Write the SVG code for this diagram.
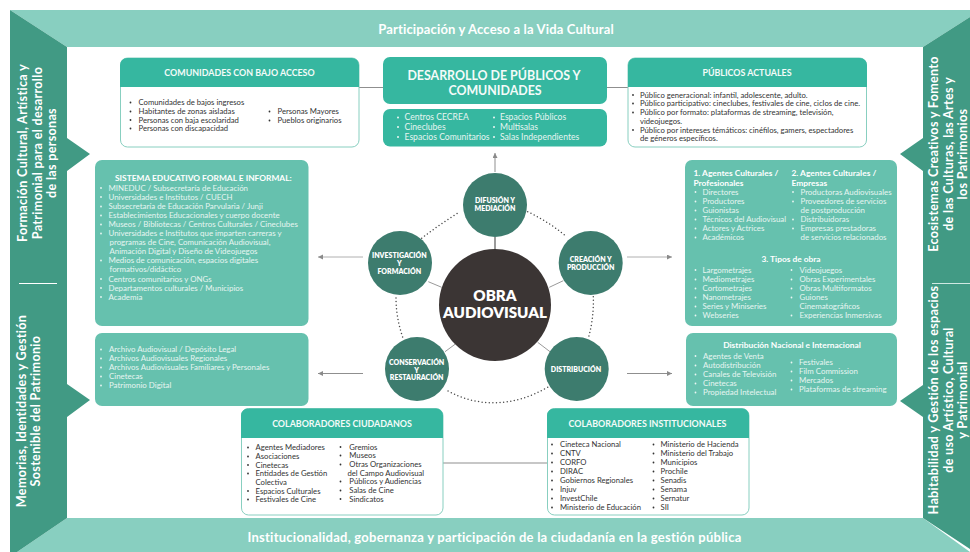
<svg xmlns="http://www.w3.org/2000/svg" width="970" height="552" viewBox="0 0 970 552">
<defs>
<marker id="arr" markerWidth="6" markerHeight="6" refX="5" refY="2.5" orient="auto" markerUnits="userSpaceOnUse"><path d="M0,0 L5,2.5 L0,5 Z" fill="#8a8a8a"/></marker>
</defs>
<style>
text{font-family:Lato,"Open Sans","Liberation Sans",sans-serif}
.b{font-size:7.7px;fill:#333}
.w{font-size:7.9px;fill:#e6f5f1}
.h{font-size:8.9px;font-weight:700;fill:#f4fbf9;text-anchor:middle}
.t{font-size:8.4px;font-weight:700;fill:#fff}
.m{text-anchor:middle}
.c{font-size:7px;font-weight:800;fill:#fff;text-anchor:middle}
.band{font-size:13px;font-weight:700;fill:#fff;text-anchor:middle;letter-spacing:.15px}
.wide{letter-spacing:.25px}
.col{font-size:12.6px;font-weight:700;fill:#fff;text-anchor:middle;letter-spacing:.3px}
.teal{fill:#36b7a0}.light{fill:#66c1ae}.node{fill:#3d7c6e}
.card{fill:#fff;stroke:#88cfc0;stroke-width:1}
.dk circle{fill:#333}.lt circle{fill:#eaf6f3}
.ln{stroke:#8f8f8f;fill:none;stroke-width:1}
.dot{stroke:#4a4a4a;fill:none;stroke-width:1.5;stroke-linecap:round;stroke-dasharray:0 3.6}
.sp{stroke:#9a9a9a;fill:none}
.s{font-size:8.6px}
</style>
<rect width="970" height="552" fill="#fff"/>
<g id="frame">
<polygon points="10,10 970,10 970,17 923,47 67,47" fill="#88cfc0"/>
<polygon points="67,518 923,518 970,552 17,552" fill="#88cfc0"/>
<polygon points="10,10 67,47 67,138 90,154 67,171 67,384 90,400 67,417 67,518 17,552 10,552" fill="#419a84"/>
<polygon points="970,17 923,47 923,138 900,154 923,171 923,385 900,401 923,417 923,518 970,549" fill="#419a84"/>
<line x1="19" y1="283.5" x2="57" y2="283.5" stroke="#fff"/>
<line x1="932" y1="283.5" x2="970" y2="283.5" stroke="#cfe8e2"/>
<text class="band" x="496" y="33.5">Participación y Acceso a la Vida Cultural</text>
<text class="band wide" x="494.500" y="542">Institucionalidad, gobernanza y participación de la ciudadanía en la gestión pública</text>
<text class="col" transform="translate(27,153) rotate(-90)">Formación Cultural, Artística y</text>
<text class="col" transform="translate(41.5,153) rotate(-90)">Patrimonial para el desarrollo</text>
<text class="col" transform="translate(56,153) rotate(-90)">de las personas</text>
<text class="col" transform="translate(26,411) rotate(-90)">Memorias, Identidades y Gestión</text>
<text class="col" transform="translate(40,411) rotate(-90)">Sostenible del Patrimonio</text>
<text class="col" transform="translate(938,154) rotate(-90)">Ecosistemas Creativos y Fomento</text>
<text class="col" transform="translate(952.5,154) rotate(-90)">de las Culturas, las Artes y</text>
<text class="col" transform="translate(966.5,154) rotate(-90)">los Patrimonios</text>
<text class="col" transform="translate(938,400) rotate(-90)">Habitabilidad y Gestión de los espacios</text>
<text class="col" transform="translate(952.5,400) rotate(-90)">de uso Artístico, Cultural</text>
<text class="col" transform="translate(966.5,400) rotate(-90)">y Patrimonial</text>
</g>
<g id="connectors">
<line class="ln" x1="359" y1="87.5" x2="383" y2="87.5"/>
<line class="ln" x1="607" y1="87.5" x2="628" y2="87.5"/>
<line class="ln" x1="443" y1="463" x2="547" y2="463"/>
<line class="ln" x1="495" y1="172" x2="495" y2="153" marker-end="url(#arr)"/>
<line class="ln" x1="363" y1="257" x2="318" y2="257" marker-end="url(#arr)" stroke-opacity=".7"/>
<line class="ln" x1="363" y1="373.5" x2="318" y2="373.5" marker-end="url(#arr)"/>
<line class="ln" x1="627" y1="257" x2="672" y2="257" marker-end="url(#arr)" stroke-opacity=".7"/>
<line class="ln" x1="627" y1="373.5" x2="672" y2="373.5" marker-end="url(#arr)"/>
<line class="sp" x1="495" y1="237" x2="495" y2="249" stroke-width="2"/>
<line class="sp" x1="549.3" y1="287.3" x2="563.3" y2="280.7"/>
<line class="sp" x1="428.3" y1="281.7" x2="441.7" y2="287.3"/>
<line class="sp" x1="445" y1="351.7" x2="455" y2="344.3"/>
<line class="sp" x1="537.7" y1="342.3" x2="550" y2="351.7"/>
<path class="dot" d="M421.7,238.3 Q440,224 460,211.7"/>
<path class="dot" d="M527.7,211.7 Q549,222 566.7,236.7"/>
<path class="dot" d="M593.3,296.7 Q594,318 588.3,338.3"/>
<path class="dot" d="M547.7,387.3 Q495,417 446,390"/>
<path class="dot" d="M396,298 Q396,318 403,338"/>
</g>
<g id="comunidades" class="dk">
<rect class="card" x="120.5" y="58" width="238.5" height="89" rx="7"/>
<path class="teal" d="M120,87 V65 a7,7 0 0 1 7,-7 H352 a7,7 0 0 1 7,7 V87 Z"/>
<text class="h" x="239.5" y="76">COMUNIDADES CON BAJO ACCESO</text>
<circle cx="130.5" cy="102.5" r=".9"/><text class="b" x="138.5" y="105">Comunidades de bajos ingresos</text>
<circle cx="130.5" cy="111.5" r=".9"/><text class="b" x="138.5" y="114">Habitantes de zonas aisladas</text>
<circle cx="130.5" cy="120" r=".9"/><text class="b" x="138.5" y="122.5">Personas con baja escolaridad</text>
<circle cx="130.5" cy="128.5" r=".9"/><text class="b" x="138.5" y="131">Personas con discapacidad</text>
<circle cx="269.5" cy="111.5" r=".9"/><text class="b" x="277.5" y="114">Personas Mayores</text>
<circle cx="269.5" cy="120.5" r=".9"/><text class="b" x="277.5" y="123">Pueblos originarios</text>
</g>
<g id="desarrollo">
<rect class="teal" x="383" y="57" width="224" height="47" rx="7"/>
<text x="494" y="80" class="m" font-size="12.4" font-weight="700" fill="#f4fbf9">DESARROLLO DE PÚBLICOS Y</text>
<text x="495" y="94.5" class="m" font-size="12.4" font-weight="700" fill="#f4fbf9">COMUNIDADES</text>
</g>
<g id="espacios" class="lt">
<rect class="teal" x="383" y="109" width="224" height="37.5" rx="7"/>
<circle cx="398" cy="117.5" r="1"/><text class="w s" x="404.5" y="120">Centros CECREA</text>
<circle cx="398" cy="127" r="1"/><text class="w s" x="404.5" y="130">Cineclubes</text>
<circle cx="398" cy="137" r="1"/><text class="w s" x="404.5" y="140">Espacios Comunitarios</text>
<circle cx="494" cy="117.5" r="1"/><text class="w s" x="500" y="120">Espacios Públicos</text>
<circle cx="494" cy="127" r="1"/><text class="w s" x="500" y="130">Multisalas</text>
<circle cx="494" cy="137" r="1"/><text class="w s" x="500" y="140">Salas Independientes</text>
</g>
<g id="publicos" class="dk">
<rect class="card" x="628" y="58" width="238.5" height="89" rx="7"/>
<path class="teal" d="M628,87 V65 a7,7 0 0 1 7,-7 H860 a7,7 0 0 1 7,7 V87 Z"/>
<text class="h" x="747" y="76">PÚBLICOS ACTUALES</text>
<circle cx="633" cy="95" r=".9"/><text class="b" x="640" y="97.5">Público generacional: infantil, adolescente, adulto.</text>
<circle cx="633" cy="103.5" r=".9"/><text class="b" x="640" y="106">Público participativo: cineclubes, festivales de cine, ciclos de cine.</text>
<circle cx="633" cy="112.5" r=".9"/><text class="b" x="640" y="115">Público por formato: plataformas de streaming, televisión,</text>
<text class="b" x="640" y="124">videojuegos.</text>
<circle cx="633" cy="130" r=".9"/><text class="b" x="640" y="132.5">Público por intereses témáticos: cinéfilos, gamers, espectadores</text>
<text class="b" x="640" y="141">de géneros específicos.</text>
</g>
<g id="sistema" class="lt">
<rect class="light" x="95" y="160" width="213.5" height="166" rx="7"/>
<text class="t" x="115" y="181">SISTEMA EDUCATIVO FORMAL E INFORMAL:</text>
<circle cx="101" cy="188" r=".9"/><text class="w" x="108.5" y="190.5">MINEDUC / Subsecretaría de Educación</text>
<circle cx="101" cy="197" r=".9"/><text class="w" x="108.5" y="199.5">Universidades e Institutos / CUECH</text>
<circle cx="101" cy="206.5" r=".9"/><text class="w" x="108.5" y="209">Subsecretaría de Educación Parvularia / Junji</text>
<circle cx="101" cy="215.5" r=".9"/><text class="w" x="108.5" y="218">Establecimientos Educacionales y cuerpo docente</text>
<circle cx="101" cy="224.5" r=".9"/><text class="w" x="108.5" y="227">Museos / Bibliotecas / Centros Culturales / Cineclubes</text>
<circle cx="101" cy="233.5" r=".9"/><text class="w" x="108.5" y="236">Universidades e Institutos que imparten carreras y</text>
<text class="w" x="109.5" y="245">programas de Cine, Comunicación Audiovisual,</text>
<text class="w" x="109.5" y="254">Animación Digital y Diseño de Videojuegos</text>
<circle cx="101" cy="260.5" r=".9"/><text class="w" x="108.5" y="263">Medios de comunicación, espacios digitales</text>
<text class="w" x="109.5" y="272">formativos/didáctico</text>
<circle cx="101" cy="279" r=".9"/><text class="w" x="108.5" y="281.5">Centros comunitarios y ONGs</text>
<circle cx="101" cy="288" r=".9"/><text class="w" x="108.5" y="290.5">Departamentos culturales / Municipios</text>
<circle cx="101" cy="297" r=".9"/><text class="w" x="108.5" y="299.5">Academia</text>
</g>
<g id="archivo" class="lt">
<rect class="light" x="95" y="333" width="213.5" height="73" rx="7"/>
<circle cx="101" cy="349.5" r=".9"/><text class="w" x="109" y="352">Archivo Audiovisual / Depósito Legal</text>
<circle cx="101" cy="358.5" r=".9"/><text class="w" x="109" y="361">Archivos Audiovisuales Regionales</text>
<circle cx="101" cy="367.5" r=".9"/><text class="w" x="109" y="370">Archivos Audiovisuales Familiares y Personales</text>
<circle cx="101" cy="376.5" r=".9"/><text class="w" x="109" y="379">Cinetecas</text>
<circle cx="101" cy="385.5" r=".9"/><text class="w" x="109" y="388">Patrimonio Digital</text>
</g>
<g id="agentes" class="lt">
<rect class="light" x="685" y="160" width="212" height="166" rx="7"/>
<text class="t" x="693.5" y="176">1. Agentes Culturales /</text>
<text class="t" x="693.5" y="185.5">Profesionales</text>
<text class="t" x="791.5" y="176">2. Agentes Culturales /</text>
<text class="t" x="791.5" y="185.5">Empresas</text>
<circle cx="695.5" cy="192" r=".9"/><text class="w" x="702.5" y="194.5">Directores</text>
<circle cx="695.5" cy="201.5" r=".9"/><text class="w" x="702.5" y="204">Productores</text>
<circle cx="695.5" cy="210.5" r=".9"/><text class="w" x="702.5" y="213">Guionistas</text>
<circle cx="695.5" cy="219.5" r=".9"/><text class="w" x="702.5" y="222">Técnicos del Audiovisual</text>
<circle cx="695.5" cy="228.5" r=".9"/><text class="w" x="702.5" y="231">Actores y Actrices</text>
<circle cx="695.5" cy="237.5" r=".9"/><text class="w" x="702.5" y="240">Académicos</text>
<circle cx="793" cy="192" r=".9"/><text class="w" x="800.5" y="194.5">Productoras Audiovisuales</text>
<circle cx="793" cy="201.5" r=".9"/><text class="w" x="800.5" y="204">Proveedores de servicios</text>
<text class="w" x="800.5" y="213">de postproducción</text>
<circle cx="793" cy="219.5" r=".9"/><text class="w" x="800.5" y="222">Distribuidoras</text>
<circle cx="793" cy="228.5" r=".9"/><text class="w" x="800.5" y="231">Empresas prestadoras</text>
<text class="w" x="800.5" y="240">de servicios relacionados</text>
<text class="t m" x="791" y="262">3. Tipos de obra</text>
<circle cx="695.5" cy="270" r=".9"/><text class="w" x="702.5" y="272.5">Largometrajes</text>
<circle cx="695.5" cy="279.5" r=".9"/><text class="w" x="702.5" y="282">Mediometrajes</text>
<circle cx="695.5" cy="288.5" r=".9"/><text class="w" x="702.5" y="291">Cortometrajes</text>
<circle cx="695.5" cy="297.5" r=".9"/><text class="w" x="702.5" y="300">Nanometrajes</text>
<circle cx="695.5" cy="306.5" r=".9"/><text class="w" x="702.5" y="309">Series y Miniseries</text>
<circle cx="695.5" cy="315.5" r=".9"/><text class="w" x="702.5" y="318">Webseries</text>
<circle cx="791.5" cy="270" r=".9"/><text class="w" x="799.5" y="272.5">Videojuegos</text>
<circle cx="791.5" cy="279.5" r=".9"/><text class="w" x="799.5" y="282">Obras Experimentales</text>
<circle cx="791.5" cy="288.5" r=".9"/><text class="w" x="799.5" y="291">Obras Multiformatos</text>
<circle cx="791.5" cy="297.5" r=".9"/><text class="w" x="799.5" y="300">Guiones</text>
<text class="w" x="799.5" y="309">Cinematográficos</text>
<circle cx="791.5" cy="315.5" r=".9"/><text class="w" x="799.5" y="318">Experiencias Inmersivas</text>
</g>
<g id="distribucion-lista" class="lt">
<rect class="light" x="686" y="333" width="211" height="73" rx="7"/>
<text class="t m" x="792" y="348">Distribución Nacional e Internacional</text>
<circle cx="695.5" cy="356" r=".9"/><text class="w" x="703" y="358.5">Agentes de Venta</text>
<circle cx="695.5" cy="365.5" r=".9"/><text class="w" x="703" y="368">Autodistribución</text>
<circle cx="695.5" cy="374.5" r=".9"/><text class="w" x="703" y="377">Canales de Televisión</text>
<circle cx="695.5" cy="383.5" r=".9"/><text class="w" x="703" y="386">Cinetecas</text>
<circle cx="695.5" cy="392.5" r=".9"/><text class="w" x="703" y="395">Propiedad Intelectual</text>
<circle cx="791.5" cy="362.5" r=".9"/><text class="w" x="799" y="365">Festivales</text>
<circle cx="791.5" cy="371.5" r=".9"/><text class="w" x="799" y="374">Film Commission</text>
<circle cx="791.5" cy="380.5" r=".9"/><text class="w" x="799" y="383">Mercados</text>
<circle cx="791.5" cy="389.5" r=".9"/><text class="w" x="799" y="392">Plataformas de streaming</text>
</g>
<g id="ciudadanos" class="dk">
<rect class="card" x="241.5" y="408.5" width="201.5" height="106.5" rx="7"/>
<path class="teal" d="M241,438 V415.5 a7,7 0 0 1 7,-7 H436 a7,7 0 0 1 7,7 V438 Z"/>
<text class="h" x="342" y="427">COLABORADORES CIUDADANOS</text>
<circle cx="248" cy="447.5" r=".9"/><text class="b" x="255.5" y="450">Agentes Mediadores</text>
<circle cx="248" cy="456.5" r=".9"/><text class="b" x="255.5" y="459">Asociaciones</text>
<circle cx="248" cy="465" r=".9"/><text class="b" x="255.5" y="467.5">Cinetecas</text>
<circle cx="248" cy="473.5" r=".9"/><text class="b" x="255.5" y="476">Entidades de Gestión</text>
<text class="b" x="255.5" y="485">Colectiva</text>
<circle cx="248" cy="491" r=".9"/><text class="b" x="255.5" y="493.5">Espacios Culturales</text>
<circle cx="248" cy="499.5" r=".9"/><text class="b" x="255.5" y="502">Festivales de Cine</text>
<circle cx="340.5" cy="447" r=".9"/><text class="b" x="349.3" y="449.5">Gremios</text>
<circle cx="340.5" cy="455.5" r=".9"/><text class="b" x="349.3" y="458">Museos</text>
<circle cx="340.5" cy="464.5" r=".9"/><text class="b" x="349.3" y="467">Otras Organizaciones</text>
<text class="b" x="347.5" y="475.5">del Campo Audiovisual</text>
<circle cx="340.5" cy="481.5" r=".9"/><text class="b" x="349.3" y="484">Públicos y Audiencias</text>
<circle cx="340.5" cy="490.5" r=".9"/><text class="b" x="349.3" y="493">Salas de Cine</text>
<circle cx="340.5" cy="499" r=".9"/><text class="b" x="349.3" y="501.5">Sindicatos</text>
</g>
<g id="institucionales" class="dk">
<rect class="card" x="547.5" y="408.5" width="201.5" height="106.5" rx="7"/>
<path class="teal" d="M547,438 V415.5 a7,7 0 0 1 7,-7 H742 a7,7 0 0 1 7,7 V438 Z"/>
<text class="h" x="647.5" y="427">COLABORADORES INSTITUCIONALES</text>
<circle cx="552" cy="444.5" r=".9"/><text class="b" x="560" y="447">Cineteca Nacional</text>
<circle cx="552" cy="453.5" r=".9"/><text class="b" x="560" y="456">CNTV</text>
<circle cx="552" cy="462.5" r=".9"/><text class="b" x="560" y="465">CORFO</text>
<circle cx="552" cy="471.5" r=".9"/><text class="b" x="560" y="474">DIRAC</text>
<circle cx="552" cy="480.5" r=".9"/><text class="b" x="560" y="483">Gobiernos Regionales</text>
<circle cx="552" cy="489.5" r=".9"/><text class="b" x="560" y="492">Injuv</text>
<circle cx="552" cy="498.5" r=".9"/><text class="b" x="560" y="501">InvestChile</text>
<circle cx="552" cy="507.5" r=".9"/><text class="b" x="560" y="510">Ministerio de Educación</text>
<circle cx="653.5" cy="444.5" r=".9"/><text class="b" x="660.5" y="447">Ministerio de Hacienda</text>
<circle cx="653.5" cy="453.5" r=".9"/><text class="b" x="660.5" y="456">Ministerio del Trabajo</text>
<circle cx="653.5" cy="462.5" r=".9"/><text class="b" x="660.5" y="465">Municipios</text>
<circle cx="653.5" cy="471.5" r=".9"/><text class="b" x="660.5" y="474">Prochile</text>
<circle cx="653.5" cy="480.5" r=".9"/><text class="b" x="660.5" y="483">Senadis</text>
<circle cx="653.5" cy="489.5" r=".9"/><text class="b" x="660.5" y="492">Senama</text>
<circle cx="653.5" cy="498.5" r=".9"/><text class="b" x="660.5" y="501">Sernatur</text>
<circle cx="653.5" cy="507.5" r=".9"/><text class="b" x="660.5" y="510">SII</text>
</g>
<g id="obra">
<circle cx="495" cy="305" r="56" fill="#3b3534"/>
<text x="495" y="301" class="m" font-size="15.2" font-weight="800" fill="#fff">OBRA</text>
<text x="495" y="318" class="m" font-size="15.2" font-weight="800" fill="#fff">AUDIOVISUAL</text>
</g>
<g id="difusion">
<circle class="node" cx="495" cy="205" r="32"/>
<text class="c" x="495" y="202.8">DIFUSIÓN Y</text><text class="c" x="495" y="211">MEDIACIÓN</text>
</g>
<g id="creacion">
<circle class="node" cx="590.7" cy="263" r="32"/>
<text class="c" x="590.7" y="261.5">CREACIÓN Y</text><text class="c" x="590.7" y="270">PRODUCCIÓN</text>
</g>
<g id="distribucion">
<circle class="node" cx="576.7" cy="369" r="32"/>
<text class="c" x="576" y="372">DISTRIBUCIÓN</text>
</g>
<g id="conservacion">
<circle class="node" cx="417" cy="369" r="32"/>
<text class="c" x="416.7" y="364.5">CONSERVACIÓN</text><text class="c" x="416.7" y="372.5">Y</text><text class="c" x="416.7" y="380">RESTAURACIÓN</text>
</g>
<g id="investigacion">
<circle class="node" cx="400" cy="263" r="32"/>
<text class="c" x="399.3" y="258">INVESTIGACIÓN</text><text class="c" x="399.3" y="266">Y</text><text class="c" x="399.3" y="274">FORMACIÓN</text>
</g>
</svg>
